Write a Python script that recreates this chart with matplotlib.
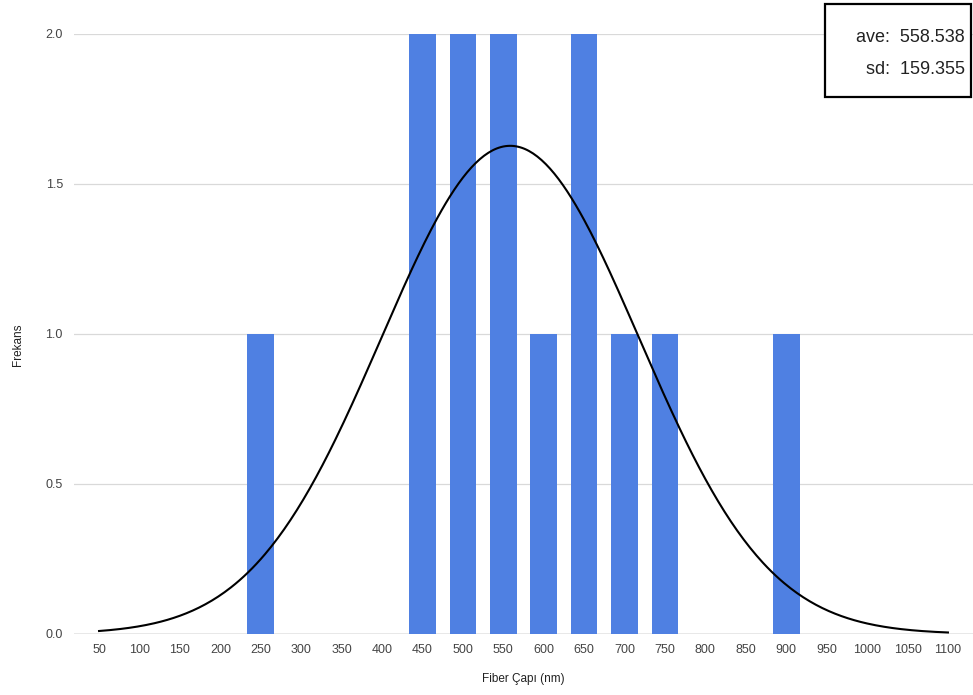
import matplotlib.pyplot as plt
import numpy as np

plt.rcParams['font.family'] = ['Liberation Sans', 'DejaVu Sans']

# histogram bins (nm) and counts
bin_centers = [50, 100, 150, 200, 250, 300, 350, 400, 450, 500, 550,
               600, 650, 700, 750, 800, 850, 900, 950, 1000, 1050, 1100]
counts = [0, 0, 0, 0, 1, 0, 0, 0, 2, 2, 2, 1, 2, 1, 1, 0, 0, 1, 0, 0, 0, 0]
ave = 558.538
sd = 159.355
n_samples = 13
bin_width = 50
y_ticks = [0.0, 0.5, 1.0, 1.5, 2.0]

fig = plt.figure(figsize=(9.73, 6.95), dpi=100)
ax = fig.add_axes([74 / 973, 61 / 695, 1 - 74 / 973, 600 / 695])

ax.bar(bin_centers, counts, width=33, color='#4f80e2', zorder=2)

# fitted normal curve scaled to counts
xs = np.linspace(bin_centers[0], bin_centers[-1], 400)
pdf = np.exp(-0.5 * ((xs - ave) / sd) ** 2) / (sd * np.sqrt(2 * np.pi))
ax.plot(xs, pdf * n_samples * bin_width, color='black', linewidth=1.5, zorder=3)

ax.set_xlim(19, 1131)
ax.set_ylim(0, 2.0)
ax.set_xticks(bin_centers)
ax.set_xticklabels([str(v) for v in bin_centers])
ax.set_yticks(y_ticks)
ax.set_yticklabels([f"{v:.1f}" for v in y_ticks])
ax.tick_params(axis='both', length=0, labelsize=9, colors='#444444')
ax.tick_params(axis='x', pad=7)
ax.tick_params(axis='y', pad=8)

ax.grid(axis='y', color='#d9d9d9', linewidth=0.9, zorder=0)
ax.axhline(0, color='#999999', linewidth=1.0, zorder=1)
for s in ax.spines.values():
    s.set_visible(False)

fig.text(523 / 973, 1 - 679 / 695, 'Fiber Çapı (nm)', ha='center', va='center',
         fontsize=8.5, color='#222222')
fig.text(18 / 973, 1 - 345 / 695, 'Frekans', ha='center', va='center',
         rotation=90, fontsize=8.5, color='#222222')

# stats box
box = plt.Rectangle((825 / 973, 1 - 97 / 695), 146 / 973, 93 / 695,
                    transform=fig.transFigure, fill=True, facecolor='white',
                    edgecolor='black', linewidth=1.6, zorder=5)
fig.add_artist(box)
fig.text(965 / 973, 1 - 37 / 695, f'ave:  {ave:.3f}', ha='right', va='center',
         fontsize=13, color='#222222', zorder=6)
fig.text(965 / 973, 1 - 70 / 695, f'sd:  {sd:.3f}', ha='right', va='center',
         fontsize=13, color='#222222', zorder=6)

fig.savefig('out.png', dpi=100)
